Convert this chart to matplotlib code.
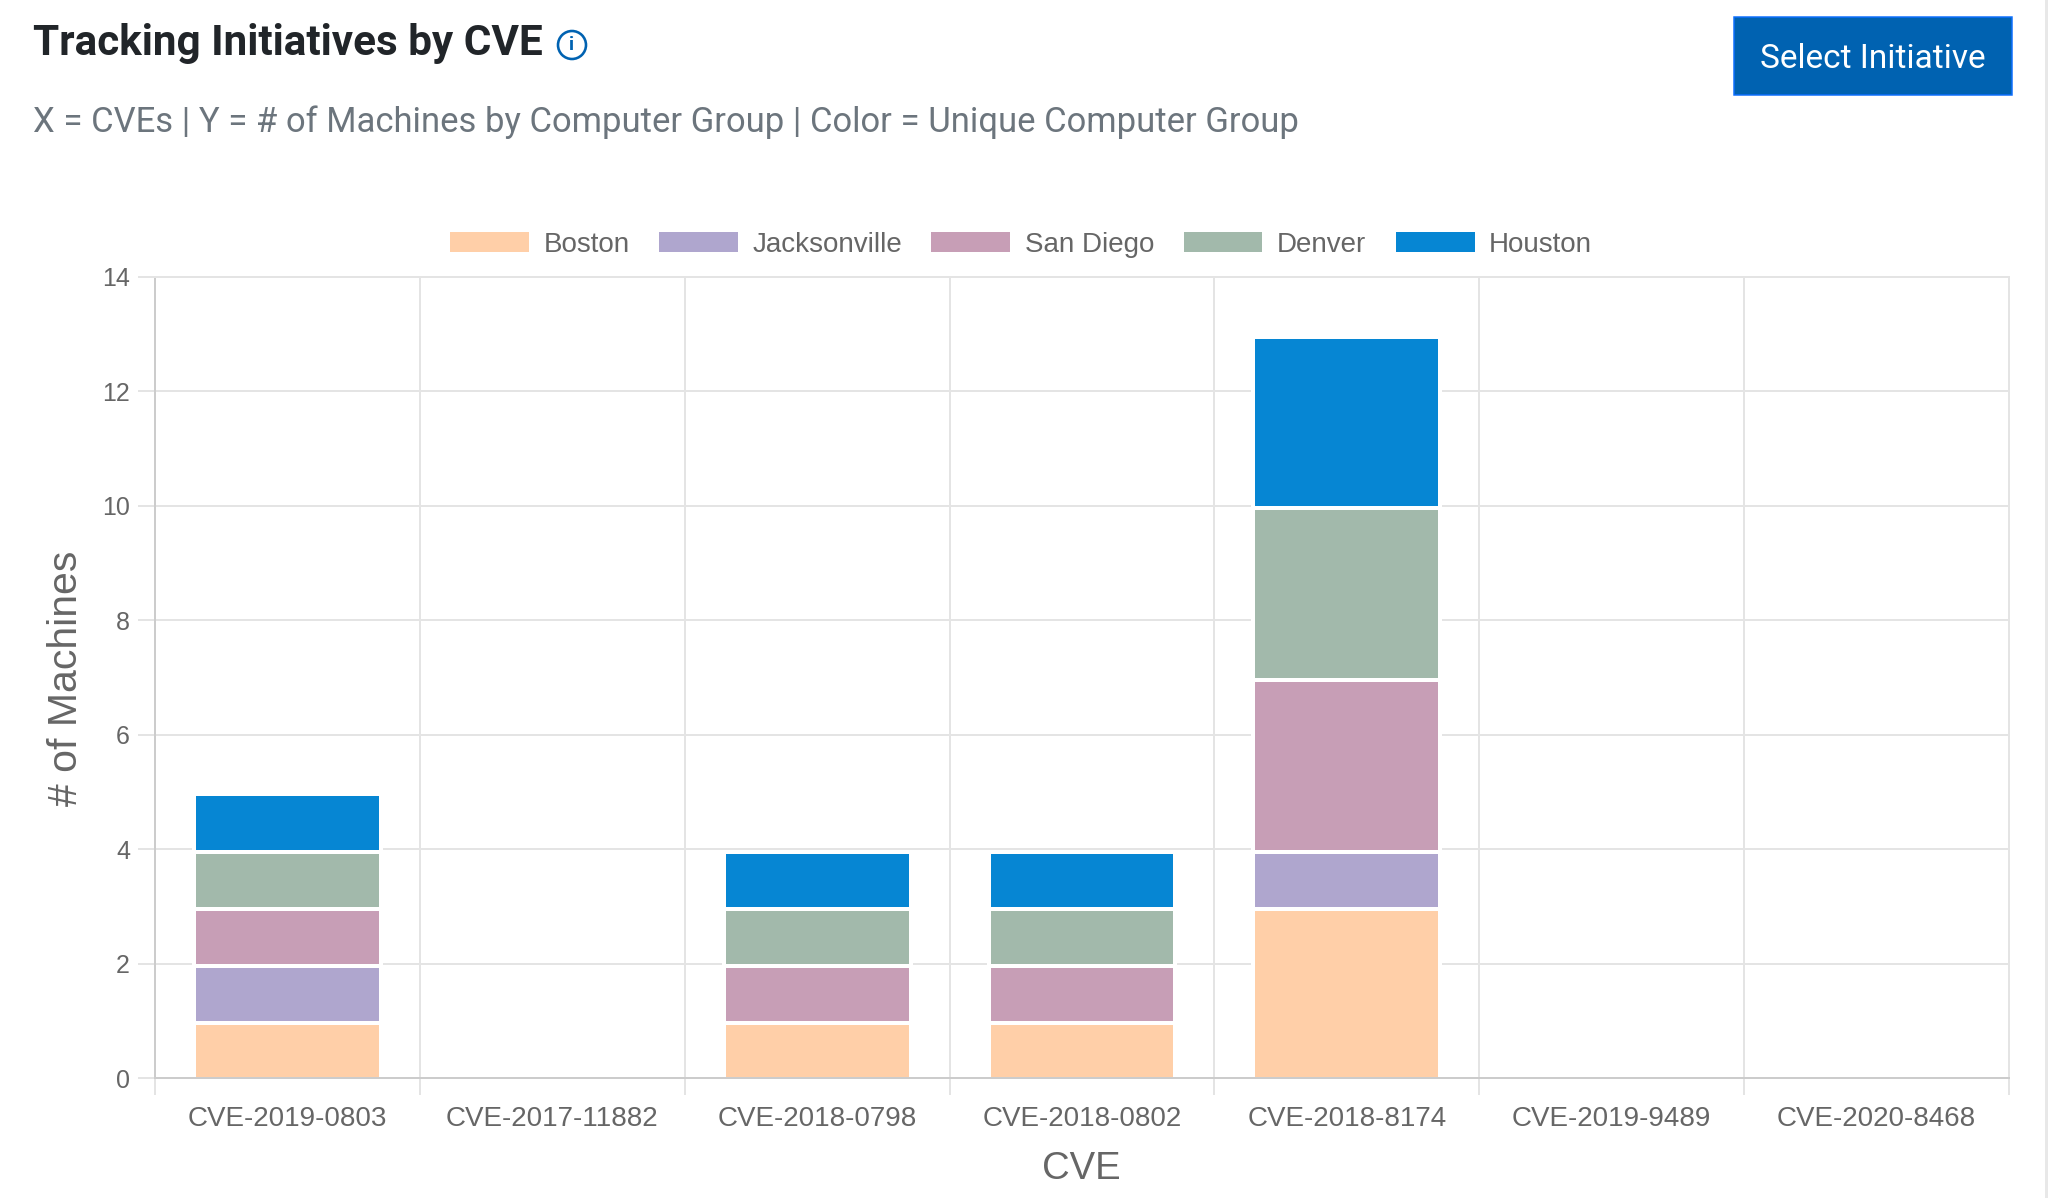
import numpy as np
import matplotlib
matplotlib.use("Agg")
import matplotlib.pyplot as plt
from matplotlib.patches import Rectangle, Circle
from matplotlib.transforms import ScaledTranslation

cves = ['CVE-2019-0803', 'CVE-2017-11882', 'CVE-2018-0798', 'CVE-2018-0802',
        'CVE-2018-8174', 'CVE-2019-9489', 'CVE-2020-8468']
groups = ['Boston', 'Jacksonville', 'San Diego', 'Denver', 'Houston']
boston = [1, 0, 1, 1, 3, 0, 0]
jacksonville = [1, 0, 0, 0, 1, 0, 0]
san_diego = [1, 0, 1, 1, 3, 0, 0]
denver = [1, 0, 1, 1, 3, 0, 0]
houston = [1, 0, 1, 1, 3, 0, 0]
colors = ['#FFCFA8', '#AFA6CE', '#C79EB6', '#A2B9AB', '#0686D3']
y_ticks = [0, 2, 4, 6, 8, 10, 12, 14]

W, H = 2048, 1198
DPI = 100
px = 72 / DPI  # one image pixel in points

plt.rcParams['font.family'] = ['Liberation Sans', 'DejaVu Sans']

fig = plt.figure(figsize=(W / DPI, H / DPI), dpi=DPI, facecolor='white')

# overlay in image pixels, y going down, for the page parts around the chart
page = fig.add_axes([0, 0, 1, 1])
page.set_xlim(0, W)
page.set_ylim(H, 0)
page.axis('off')

page.text(33, 55, 'Tracking Initiatives by CVE', family='Roboto', weight='bold',
          fontsize=30.4, color='#212529', ha='left', va='baseline')
page.add_patch(Circle((572, 45), 14, fill=False, ec='#0062B1', lw=2.6 * px))
page.text(572, 45, 'i', family='Roboto', weight='bold', fontsize=14, color='#0062B1',
          ha='center', va='center')
page.text(33, 132, 'X = CVEs | Y = # of Machines by Computer Group | Color = Unique Computer Group',
          family='Roboto', fontsize=24.9, color='#6C757D', ha='left', va='baseline')

page.add_patch(Rectangle((1734, 17), 278, 78, fc='#0062B1', ec='#0D6EFD', lw=1.5 * px))
page.text(1873, 59, 'Select Initiative', family='Roboto', fontsize=24, color='white',
          ha='center', va='center')
page.add_patch(Rectangle((2045, 0), 3, H, fc='#E8E8E8', ec='none'))

# chart area
left, right, top, bottom = 155, 2009, 277, 1078
ax = fig.add_axes([left / W, 1 - bottom / H, (right - left) / W, (bottom - top) / H])
ax.patch.set_alpha(0)

# the white bar borders sit a little below the value lines in the original
bar_shift = ax.transData + ScaledTranslation(0, -2.5 / DPI, fig.dpi_scale_trans)

x = np.arange(len(cves)) + 0.5
series = [boston, jacksonville, san_diego, denver, houston]
base = np.zeros(len(cves))
for name, vals, col in zip(groups, series, colors):
    ax.bar(x, vals, width=0.706, bottom=base, color=col, edgecolor='white',
           linewidth=4 * px, label=name, transform=bar_shift)
    base = base + np.array(vals)

ax.set_xlim(0, len(cves))
ax.set_ylim(0, 14)
ax.set_yticks(y_ticks)
ax.set_xticks(np.arange(len(cves) + 1))
ax.set_xticklabels([])
ax.set_xticks(x, minor=True)
ax.set_xticklabels(cves, minor=True)

ax.set_axisbelow(True)
ax.grid(True, which='major', color='#E4E4E4', linewidth=2 * px)
ax.tick_params(axis='x', which='major', length=17 * px, width=2 * px, color='#E4E4E4')
ax.tick_params(axis='x', which='minor', length=0, pad=14 * px + 10, labelsize=20, labelcolor='#666666')
ax.tick_params(axis='y', length=17 * px, width=2 * px, color='#E4E4E4', pad=8 * px,
               labelsize=18, labelcolor='#666666')

for side in ['top', 'right']:
    ax.spines[side].set_color('#E4E4E4')
    ax.spines[side].set_linewidth(2 * px)
for side in ['left', 'bottom']:
    ax.spines[side].set_color('#CCCCCC')
    ax.spines[side].set_linewidth(2 * px)

page.text(66, 678, '# of Machines', rotation=90, fontsize=29.5, color='#666666',
          ha='center', va='center')
page.text(1081, 1169, 'CVE', fontsize=27.5, color='#666666', ha='center', va='center')

leg = fig.legend(*ax.get_legend_handles_labels(), ncol=5, frameon=False,
                 loc='center', bbox_to_anchor=(1021 / W, 1 - 244.5 / H),
                 fontsize=20, labelcolor='#666666', handlelength=2.84, handleheight=0.76,
                 handletextpad=0.52, columnspacing=1.06, borderpad=0, borderaxespad=0)
for h in leg.legend_handles:
    h.set_linewidth(0)

fig.savefig('out.png', dpi=DPI, facecolor='white')
